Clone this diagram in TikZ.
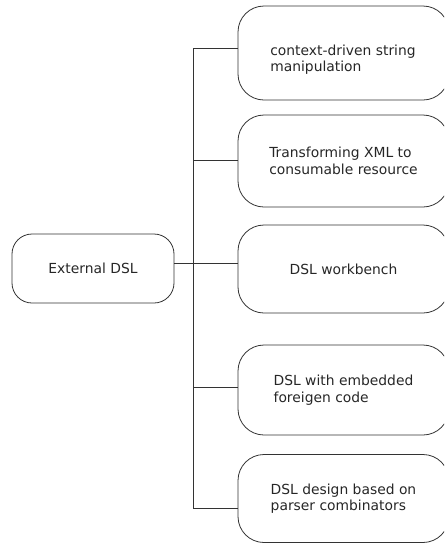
\documentclass[tikz,border=0pt]{standalone}
\usepackage{fontspec}
\setmainfont{DejaVu Sans}
\begin{document}
\begin{tikzpicture}[x=0.75pt,y=-0.75pt,
  box/.style={draw=black!80, line width=0.6pt, rounded corners=19.5pt,
    minimum width=158.25pt, inner sep=0pt, align=left, text=black!85,
    font=\fontsize{10.4pt}{12.4pt}\selectfont},
  label/.style={inner sep=0pt, align=left, text=black!85,
    font=\fontsize{10.4pt}{12.4pt}\selectfont},
  rootbox/.style={draw=black!80, line width=0.6pt, rounded corners=15pt,
    minimum width=121.5pt, minimum height=51.75pt, inner sep=0pt, text=black!85,
    font=\fontsize{10.4pt}{12.4pt}\selectfont},
  link/.style={draw=black!80, line width=0.6pt}]
\useasboundingbox (0,0) rectangle (444,544);
\clip (0,0) rectangle (444,544);

% root of the tree
\node[rootbox] (root) at (93,268.5) {External DSL};

% the five kinds of external DSL
\node[box, minimum height=70.5pt] (c1) at (343.5,53) {};
\node[label] (c1t) at (343,59.5) {context-driven string\\manipulation};
\node[box, minimum height=69pt]   (c2) at (343.5,161) {Transforming XML to\\consumable resource};
\node[box, minimum height=66pt]   (c3) at (343.5,269) {DSL workbench};
\node[box, minimum height=67.5pt] (c4) at (343.5,390) {DSL with embedded\\foreigen code};
\node[box, minimum height=66pt]   (c5) at (343.5,498.5) {DSL design based on\\parser combinators};

% junctions on the vertical bus
\coordinate (j1) at (193,48);
\coordinate (j2) at (193,160);
\coordinate (j3) at (193,263);
\coordinate (j4) at (193,387);
\coordinate (j5) at (193,508);

% bus and branches
\draw[link] (j1) -- (j5);
\draw[link] (root.east |- j3) -- (j3 -| c3.west);
\draw[link] (j1) -- (j1 -| c1.west);
\draw[link] (j2) -- (j2 -| c2.west);
\draw[link] (j4) -- (j4 -| c4.west);
\draw[link] (j5) -- (j5 -| c5.west);
\end{tikzpicture}
\end{document}
